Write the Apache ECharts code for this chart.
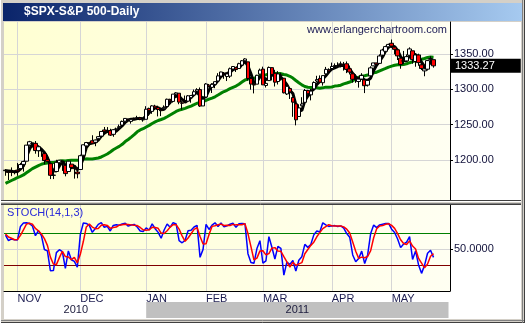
<!DOCTYPE html>
<html><head><meta charset="utf-8">
<script src="https://cdn.jsdelivr.net/npm/echarts@6/dist/echarts.min.js"></script>
<style>html,body{margin:0;padding:0;background:#d4d0c8;overflow:hidden}#c{width:525px;height:323px}</style>
</head><body><div id="c"></div>
<script>
// ---------- DATA ----------
const dates = [
'2010-10-26','2010-10-27','2010-10-28','2010-10-29',
'2010-11-01','2010-11-02','2010-11-03','2010-11-04','2010-11-05','2010-11-08','2010-11-09','2010-11-10','2010-11-11','2010-11-12','2010-11-15','2010-11-16','2010-11-17','2010-11-18','2010-11-19','2010-11-22','2010-11-23','2010-11-24','2010-11-26','2010-11-29','2010-11-30',
'2010-12-01','2010-12-02','2010-12-03','2010-12-06','2010-12-07','2010-12-08','2010-12-09','2010-12-10','2010-12-13','2010-12-14','2010-12-15','2010-12-16','2010-12-17','2010-12-20','2010-12-21','2010-12-22','2010-12-23','2010-12-27','2010-12-28','2010-12-29','2010-12-30','2010-12-31',
'2011-01-03','2011-01-04','2011-01-05','2011-01-06','2011-01-07','2011-01-10','2011-01-11','2011-01-12','2011-01-13','2011-01-14','2011-01-18','2011-01-19','2011-01-20','2011-01-21','2011-01-24','2011-01-25','2011-01-26','2011-01-27','2011-01-28','2011-01-31',
'2011-02-01','2011-02-02','2011-02-03','2011-02-04','2011-02-07','2011-02-08','2011-02-09','2011-02-10','2011-02-11','2011-02-14','2011-02-15','2011-02-16','2011-02-17','2011-02-18','2011-02-22','2011-02-23','2011-02-24','2011-02-25','2011-02-28',
'2011-03-01','2011-03-02','2011-03-03','2011-03-04','2011-03-07','2011-03-08','2011-03-09','2011-03-10','2011-03-11','2011-03-14','2011-03-15','2011-03-16','2011-03-17','2011-03-18','2011-03-21','2011-03-22','2011-03-23','2011-03-24','2011-03-25','2011-03-28','2011-03-29','2011-03-30','2011-03-31',
'2011-04-01','2011-04-04','2011-04-05','2011-04-06','2011-04-07','2011-04-08','2011-04-11','2011-04-12','2011-04-13','2011-04-14','2011-04-15','2011-04-18','2011-04-19','2011-04-20','2011-04-21','2011-04-25','2011-04-26','2011-04-27','2011-04-28','2011-04-29',
'2011-05-02','2011-05-03','2011-05-04','2011-05-05','2011-05-06','2011-05-09','2011-05-10','2011-05-11','2011-05-12','2011-05-13','2011-05-16','2011-05-17','2011-05-18','2011-05-19','2011-05-20'];

const opens = [
1184.88,1183.84,1184.47,1183.87,
1185.71,1187.86,1193.79,1198.34,1221.20,1223.24,1223.59,1213.14,1213.04,1209.07,1200.44,1194.79,1178.33,1183.75,1196.12,1198.07,1192.51,1183.70,1194.16,1189.08,1182.96,
1186.60,1206.81,1219.93,1223.87,1227.25,1225.02,1230.14,1233.85,1242.52,1241.84,1241.58,1236.34,1243.63,1245.76,1249.43,1254.94,1257.53,1254.66,1259.10,1258.78,1259.44,1256.76,
1257.62,1272.95,1268.78,1276.29,1274.41,1270.84,1272.58,1275.65,1285.78,1282.90,1293.22,1294.52,1280.85,1283.63,1283.29,1288.17,1291.97,1297.51,1299.63,1276.50,
1289.14,1305.91,1302.77,1307.01,1311.85,1318.76,1322.48,1318.13,1318.66,1328.73,1330.43,1329.51,1334.37,1340.38,1338.91,1315.44,1307.09,1307.34,1321.61,
1328.64,1305.47,1312.37,1330.73,1322.72,1311.05,1319.92,1315.72,1293.43,1301.19,1288.46,1279.46,1261.61,1276.71,1281.65,1298.29,1292.19,1300.61,1311.80,1315.45,1309.37,1321.89,1327.44,
1329.48,1333.56,1332.03,1335.94,1334.82,1336.16,1329.01,1321.96,1314.03,1311.13,1314.54,1313.35,1305.99,1319.12,1333.23,1337.14,1336.75,1348.43,1353.86,1360.14,
1365.21,1359.76,1355.90,1344.16,1340.24,1340.20,1348.34,1354.51,1339.39,1348.69,1334.77,1326.10,1328.54,1342.40,1342.00];

const highs = [
1187.11,1183.84,1189.53,1185.46,
1195.81,1195.88,1198.30,1221.25,1227.08,1224.57,1226.84,1218.75,1215.45,1210.50,1207.43,1194.79,1183.56,1200.29,1199.97,1198.94,1192.51,1198.62,1194.16,1190.34,1187.40,
1207.61,1221.89,1225.57,1225.80,1235.05,1228.93,1233.68,1240.40,1246.73,1246.59,1244.25,1243.75,1245.81,1250.20,1255.82,1259.39,1258.59,1258.43,1259.90,1262.60,1261.09,1259.34,
1276.17,1274.12,1277.63,1278.17,1276.83,1271.52,1277.25,1286.87,1286.70,1293.24,1296.06,1294.60,1283.35,1291.21,1291.93,1291.26,1299.74,1301.63,1302.67,1287.17,
1308.86,1307.61,1308.60,1311.00,1322.85,1324.87,1324.54,1322.76,1330.79,1332.96,1330.43,1337.61,1341.50,1344.07,1338.91,1317.91,1310.91,1320.61,1329.38,
1332.09,1314.19,1332.28,1331.08,1327.68,1325.74,1323.21,1315.72,1308.35,1301.19,1288.46,1280.91,1278.88,1288.88,1300.58,1299.35,1300.51,1311.34,1319.18,1319.74,1319.45,1331.74,1329.77,
1337.85,1336.74,1338.21,1339.38,1338.80,1339.46,1333.77,1321.96,1321.35,1316.79,1322.88,1313.35,1312.70,1332.66,1337.49,1337.55,1349.55,1357.49,1361.71,1364.56,
1370.58,1360.84,1355.90,1348.00,1354.36,1349.44,1359.44,1354.51,1351.05,1350.47,1343.33,1330.42,1341.82,1346.82,1342.00];

const lows = [
1177.72,1171.70,1177.10,1179.70,
1177.65,1187.86,1183.56,1198.34,1220.29,1217.55,1208.94,1204.33,1204.49,1194.08,1197.15,1173.00,1173.00,1183.75,1189.44,1184.58,1176.91,1183.70,1186.93,1173.64,1174.14,
1186.60,1206.81,1216.82,1220.67,1223.25,1219.50,1228.39,1232.58,1240.34,1238.17,1234.01,1232.85,1239.87,1241.51,1249.43,1254.94,1254.05,1251.48,1256.22,1258.78,1256.32,1254.19,
1257.62,1262.66,1265.36,1270.43,1261.70,1262.18,1269.62,1275.65,1280.47,1281.24,1290.16,1278.92,1271.26,1282.07,1282.47,1281.07,1291.97,1294.42,1275.10,1276.50,
1289.14,1302.62,1294.83,1301.67,1311.85,1316.03,1314.89,1311.74,1316.08,1326.90,1324.61,1329.51,1331.00,1338.12,1312.33,1299.55,1294.26,1307.34,1320.55,
1306.14,1302.58,1312.37,1312.59,1303.99,1306.86,1312.27,1294.21,1291.99,1286.37,1261.12,1249.05,1261.61,1276.18,1281.65,1292.70,1284.38,1297.74,1310.15,1310.19,1305.26,1321.89,1325.03,
1328.89,1329.10,1330.03,1331.09,1326.56,1322.94,1321.06,1309.51,1309.19,1302.42,1313.68,1294.70,1303.97,1319.12,1332.83,1331.47,1336.75,1344.25,1353.60,1358.69,
1358.59,1349.52,1341.50,1329.17,1335.58,1338.64,1348.34,1336.36,1332.03,1333.36,1327.32,1318.51,1326.59,1336.36,1330.67];

const closes = [
1185.64,1182.45,1183.78,1183.26,
1184.38,1193.57,1197.96,1221.06,1225.85,1223.25,1213.40,1218.71,1213.54,1199.21,1197.75,1178.34,1178.59,1196.69,1199.73,1197.84,1180.73,1198.35,1189.40,1187.76,1180.55,
1206.07,1221.53,1224.71,1223.12,1223.75,1228.28,1233.00,1240.40,1240.46,1241.59,1235.23,1242.87,1243.91,1247.08,1254.60,1258.84,1256.77,1257.54,1258.51,1259.78,1257.88,1257.64,
1271.87,1270.20,1276.56,1273.85,1271.50,1269.75,1274.48,1285.96,1283.76,1293.24,1295.02,1281.92,1280.26,1283.35,1290.84,1291.18,1296.63,1299.54,1276.34,1286.12,
1307.59,1304.03,1307.10,1310.87,1319.05,1324.57,1320.88,1321.87,1329.15,1332.32,1328.01,1336.32,1340.43,1343.01,1315.44,1307.40,1306.10,1319.88,1327.22,
1306.33,1308.44,1330.97,1321.15,1310.13,1321.82,1320.02,1295.11,1304.28,1296.39,1281.87,1256.88,1273.72,1279.21,1298.38,1293.77,1297.54,1309.66,1313.80,1310.19,1319.44,1328.26,1325.83,
1332.41,1332.87,1332.63,1335.54,1333.51,1328.17,1324.46,1314.16,1314.41,1314.52,1319.68,1305.14,1312.62,1330.36,1337.38,1335.25,1347.24,1355.66,1360.48,1363.61,
1361.22,1356.62,1347.32,1335.10,1340.20,1346.29,1357.16,1342.08,1348.65,1337.77,1329.47,1328.98,1340.68,1343.60,1333.27];

// short moving average (black)
const maShort = [
1184.8,1184.6,1184.0,1183.2,
1183.8,1187.1,1192.0,1204.2,1215.0,1223.4,1220.8,1218.5,1215.2,1210.5,1203.5,1191.8,1184.9,1184.5,1191.7,1198.1,1192.8,1192.3,1189.5,1191.8,1185.9,
1191.5,1202.7,1217.4,1223.1,1223.9,1225.1,1228.3,1233.9,1238.0,1240.8,1239.1,1239.9,1240.7,1244.6,1248.5,1253.5,1256.7,1257.7,1257.6,1258.6,1258.7,1258.4,
1262.5,1266.6,1272.9,1273.5,1274.0,1271.7,1271.9,1276.7,1281.4,1287.7,1290.7,1290.1,1285.7,1281.8,1284.8,1288.5,1292.9,1295.8,1290.8,1287.3,
1290.0,1299.2,1306.2,1307.3,1312.3,1318.2,1321.5,1322.4,1324.0,1327.8,1329.8,1332.2,1334.9,1339.9,1333.0,1322.0,1309.6,1311.1,1317.7,
1317.8,1314.0,1315.2,1320.2,1320.8,1317.7,1317.3,1312.3,1306.5,1298.6,1294.2,1278.4,1270.8,1269.9,1283.8,1290.5,1296.6,1300.3,1307.0,1311.2,1314.5,1319.3,1324.5,
1328.8,1330.4,1332.6,1333.7,1333.9,1332.4,1328.7,1322.3,1317.7,1314.4,1316.2,1313.1,1312.5,1316.0,1326.8,1334.3,1340.0,1346.1,1354.5,1359.9,
1361.8,1360.5,1355.1,1346.3,1340.9,1340.5,1347.9,1348.5,1349.3,1342.8,1338.6,1332.1,1333.0,1337.8,1339.2];

// longer moving average (green)
const maLong = [
1167.0,1168.9,1171.0,1172.9,
1175.2,1176.9,1178.8,1181.9,1184.9,1187.8,1190.0,1192.1,1194.0,1195.2,1195.8,1196.5,1196.5,1197.3,1198.1,1198.8,1198.5,1199.3,1199.6,1199.8,1199.6,
1200.2,1201.4,1201.6,1201.5,1201.5,1202.2,1202.9,1204.3,1206.4,1208.5,1211.4,1214.6,1217.0,1219.3,1222.2,1226.1,1229.0,1232.4,1235.9,1239.9,1242.5,1244.3,
1246.7,1249.0,1251.7,1253.9,1255.9,1257.3,1259.0,1261.2,1263.7,1266.2,1268.7,1270.5,1271.8,1273.0,1274.7,1276.4,1278.3,1280.3,1281.2,1282.6,
1284.4,1286.1,1287.6,1289.5,1291.9,1294.6,1296.9,1298.7,1301.0,1302.9,1304.6,1307.3,1310.3,1313.3,1314.5,1315.3,1315.8,1316.8,1319.4,
1320.4,1320.4,1321.8,1322.5,1322.4,1322.6,1322.3,1321.1,1320.2,1318.5,1316.0,1312.5,1309.3,1306.3,1304.0,1303.0,1302.5,1302.6,1302.3,1301.5,1302.1,1303.1,1302.9,
1303.4,1304.6,1305.1,1305.9,1307.8,1309.0,1310.4,1312.0,1314.9,1316.9,1319.0,1319.3,1320.2,1321.9,1323.3,1324.3,1326.2,1328.0,1329.6,1331.5,
1332.9,1334.1,1334.9,1334.8,1335.2,1336.1,1337.7,1339.1,1340.8,1342.0,1342.5,1343.7,1345.1,1345.7,1345.5];

// stochastic %K (blue) and %D (red)
const stochK = [
76.5,66.2,69.4,68.1,
67.7,92.9,99.1,99.7,98.2,93.7,75.5,84.9,75.6,49.7,47.0,9.9,10.3,43.8,49.4,45.9,14.3,46.9,30.5,27.4,16.5,
77.9,99.3,98.4,94.9,81.8,89.0,96.7,100,91.4,93.0,84.3,94.7,96.1,95.1,97.5,98.7,93.4,95.4,96.6,91.8,84.3,83.3,
90.1,86.2,97.6,88.7,81.8,70.7,86.2,97.4,91.2,100,97.5,66.2,62.3,66.9,84.8,85.8,91.8,94.8,35.0,49.9,
96.6,87.2,95.3,99.7,92.6,99.4,92.0,94.0,97.1,98.9,91.4,97.9,98.4,98.1,41.9,25.5,23.8,51.4,66.2,
24.2,28.5,73.7,54.0,31.9,55.3,51.7,1.8,26.2,21.8,29.2,9.4,29.6,36.2,59.3,53.7,59.1,77.1,84.4,82.4,99.6,95.8,92.9,
93.9,94.4,92.7,93.9,89.8,79.5,72.8,39.4,26.8,32.7,46.6,23.3,40.0,79.7,95.4,90.6,95.8,97.1,98.2,98.6,
87.7,81.6,69.3,53.2,60.0,63.5,73.9,31.2,47.0,20.8,5.0,20.1,42.6,48.2,34.9];

const stochD = [
78.8,73.1,70.7,67.9,
68.4,76.2,86.6,97.2,99.0,97.2,89.1,84.7,78.7,70.1,57.4,35.5,22.4,21.3,34.5,46.4,36.5,35.7,30.6,34.9,24.8,
40.6,64.6,91.9,97.5,91.7,88.6,89.2,95.2,96.0,94.8,89.6,90.7,91.7,95.3,96.2,97.1,96.5,95.8,95.1,94.6,90.9,86.5,
85.9,86.5,91.3,90.8,89.4,80.4,79.6,84.8,91.6,96.2,96.2,87.9,75.3,65.1,71.3,79.2,87.5,90.8,73.9,59.9,
60.5,77.9,93.0,94.1,95.9,97.2,94.7,95.1,94.4,96.7,95.8,96.1,95.9,98.1,79.5,55.2,30.4,33.6,47.1,
47.3,39.6,42.1,52.1,53.2,47.1,46.3,36.3,26.6,16.6,25.7,20.1,22.7,25.1,41.7,49.7,57.4,63.3,73.5,81.3,88.8,92.6,96.1,
94.2,93.7,93.7,93.7,92.1,87.7,80.7,63.9,46.3,33.0,35.4,34.2,36.6,47.7,71.7,88.6,93.9,94.5,97.0,98.0,
94.8,89.3,79.5,68.0,60.8,58.9,65.8,56.2,50.7,33.0,24.3,15.3,22.6,37.0,41.9];

const monthStarts = ['2010-11-01','2010-12-01','2011-01-03','2011-02-01','2011-03-01','2011-04-01','2011-05-02'];
const monthLabels = ['NOV','DEC','JAN','FEB','MAR','APR','MAY'];
const priceTicks = [1200, 1250, 1300, 1350];
const stochTicks = [50];
const stochUpper = [80];
const stochLower = [20];
const yearLabels = ['2010', '2011'];
const yearStart = '2011-01-03';

// ---------- CHART ----------
const FONT = '"Liberation Sans", Arial, sans-serif';
const LASTSLOT = dates.length + 4;
const plotBg = {type:'linear', x:0, y:0, x2:1, y2:0,
  colorStops:[{offset:0, color:'#ffffd2'}, {offset:1, color:'#fffff2'}]};
const candleData = dates.map((d, i) => [opens[i], closes[i], lows[i], highs[i]]);
const vLines = monthStarts.map(d => ({xAxis: d}));
const gridMark = {silent:true, symbol:'none', z:1, animation:false, label:{show:false},
  lineStyle:{color:'#d6d6d6', width:1, type:'solid'}, data: vLines};

function xAx(gi, extra) {
  return Object.assign({type:'category', gridIndex:gi, data:dates, boundaryGap:true, max:LASTSLOT,
    axisTick:{show:false}, splitLine:{show:false}, axisLine:{show:false, onZero:false}, axisLabel:{show:false}}, extra || {});
}

const chart = echarts.init(document.getElementById('c'), null, {renderer:'canvas'});
const btn = (x, glyph) => ({type:'group', x:x, y:6, z:120, children:[
  {type:'rect', shape:{x:0, y:0, width:16, height:14}, style:{fill:'#d4d0c8', stroke:'#404040', lineWidth:1}},
  {type:'polyline', shape:{points:[[0.5,13],[0.5,0.5],[15,0.5]]}, style:{stroke:'#ffffff', lineWidth:1, fill:null}},
  {type:'polyline', shape:{points:[[1.5,12.5],[14.5,12.5],[14.5,1.5]]}, style:{stroke:'#808080', lineWidth:1, fill:null}}
].concat(glyph)});

chart.setOption({
  animation:false,
  backgroundColor:'#d4d0c8',
  grid:[
    {left:4, right:75, top:22, height:178, show:true, backgroundColor:plotBg, borderWidth:0},
    {left:4, right:75, top:205, height:86, show:true, backgroundColor:plotBg, borderWidth:0},
    {left:4, right:75, top:302, height:16, show:false}
  ],
  xAxis:[
    xAx(0),
    xAx(1, {axisLine:{show:true, onZero:false, lineStyle:{color:'#000', width:1}},
      axisLabel:{show:true, interval:(i, v) => monthStarts.indexOf(v) >= 0,
        formatter:v => monthLabels[monthStarts.indexOf(v)] || '', align:'left', margin:2,
        color:'#1c1c50', fontFamily:FONT, fontSize:11}}),
    xAx(2)
  ],
  yAxis:[
    {gridIndex:0, type:'value', position:'right', min:1143.4, max:1395.3,
      axisLine:{show:true, lineStyle:{color:'#000', width:1}},
      axisTick:{show:true, length:3, customValues:priceTicks, lineStyle:{color:'#000'}},
      axisLabel:{customValues:priceTicks, formatter:v => v.toFixed(2), margin:4, color:'#10103a', fontFamily:FONT, fontSize:11},
      splitLine:{show:true, lineStyle:{color:'#d6d6d6', width:1}}},
    {gridIndex:1, type:'value', position:'right', min:-28, max:133,
      axisLine:{show:true, lineStyle:{color:'#000', width:1}},
      axisTick:{show:true, length:3, customValues:stochTicks, lineStyle:{color:'#000'}},
      axisLabel:{customValues:stochTicks, formatter:v => v.toFixed(4), margin:4, color:'#10103a', fontFamily:FONT, fontSize:11},
      splitLine:{show:true, lineStyle:{color:'#d6d6d6', width:1}}},
    {gridIndex:2, type:'value', show:false, min:0, max:1}
  ],
  series:[
    {type:'line', name:'grid0', xAxisIndex:0, yAxisIndex:0, data:[], silent:true, z:1, markLine:gridMark},
    {type:'line', name:'MA long', xAxisIndex:0, yAxisIndex:0, data:maLong, showSymbol:false, silent:true, z:3,
      lineStyle:{color:'#008000', width:3}},
    {type:'line', name:'MA short', xAxisIndex:0, yAxisIndex:0, data:maShort, showSymbol:false, silent:true, z:4,
      lineStyle:{color:'#000000', width:3}},
    {type:'candlestick', name:'$SPX', xAxisIndex:0, yAxisIndex:0, data:candleData, barWidth:4, z:5, silent:true,
      itemStyle:{color:'#ffffff', color0:'#ff0000', borderColor:'#000000', borderColor0:'#000000', borderWidth:1},
      markLine:{silent:true, symbol:'none', animation:false, z:10,
        lineStyle:{color:'rgba(0,0,0,0)', width:0},
        data:[{yAxis: closes[closes.length - 1]}],
        label:{show:true, position:'end', distance:1, formatter:p => Number(p.value).toFixed(2),
          color:'#ffffff', backgroundColor:'#000000', padding:[2, 26, 1, 4], fontFamily:FONT, fontSize:11}}},
    {type:'line', name:'grid1', xAxisIndex:1, yAxisIndex:1, data:[], silent:true, z:1, markLine:gridMark},
    {type:'line', name:'%K', xAxisIndex:1, yAxisIndex:1, data:stochK, showSymbol:false, silent:true, z:4,
      lineStyle:{color:'#0000ff', width:1.5},
      markLine:{silent:true, symbol:'none', z:2, animation:false, label:{show:false},
        data:[{yAxis:stochUpper[0], lineStyle:{color:'#008000', width:1, type:'solid'}},
              {yAxis:stochLower[0], lineStyle:{color:'#800000', width:1, type:'solid'}}]}},
    {type:'line', name:'%D', xAxisIndex:1, yAxisIndex:1, data:stochD, showSymbol:false, silent:true, z:5,
      lineStyle:{color:'#ff0000', width:1.5}},
    {type:'line', name:'years', xAxisIndex:2, yAxisIndex:2, data:[], silent:true, z:2,
      markArea:{silent:true, animation:false,
        label:{show:true, position:'inside', color:'#202040', fontFamily:FONT, fontSize:11},
        data:[
          [{name:yearLabels[0], xAxis:dates[0], itemStyle:{color:'#ffffff'}}, {xAxis:yearStart}],
          [{name:yearLabels[1], xAxis:yearStart, itemStyle:{color:'#c0c0c0'}}, {xAxis:LASTSLOT}]
        ]}}
  ],
  graphic:[
    {type:'rect', z:-10, silent:true, shape:{x:4, y:22, width:517, height:297}, style:{fill:'#ffffff'}},
    // panel separator
    {type:'rect', z:60, silent:true, shape:{x:0, y:200, width:521, height:5}, style:{fill:'#d4d0c8'}},
    {type:'line', z:61, silent:true, shape:{x1:0, y1:200.5, x2:521, y2:200.5}, style:{stroke:'#404040', lineWidth:1}},
    {type:'line', z:61, silent:true, shape:{x1:0, y1:201.5, x2:521, y2:201.5}, style:{stroke:'#ffffff', lineWidth:1}},
    {type:'line', z:61, silent:true, shape:{x1:0, y1:203.5, x2:521, y2:203.5}, style:{stroke:'#808080', lineWidth:1}},
    {type:'line', z:61, silent:true, shape:{x1:0, y1:204.5, x2:521, y2:204.5}, style:{stroke:'#404040', lineWidth:1}},
    // window frame lines
    {type:'line', z:61, silent:true, shape:{x1:0, y1:320.5, x2:525, y2:320.5}, style:{stroke:'#808080', lineWidth:1}},
    {type:'line', z:61, silent:true, shape:{x1:0, y1:322.5, x2:525, y2:322.5}, style:{stroke:'#404040', lineWidth:1}},
    {type:'line', z:61, silent:true, shape:{x1:522.5, y1:0, x2:522.5, y2:323}, style:{stroke:'#808080', lineWidth:1}},
    {type:'line', z:61, silent:true, shape:{x1:524.5, y1:0, x2:524.5, y2:323}, style:{stroke:'#404040', lineWidth:1}},
    {type:'line', z:61, silent:true, shape:{x1:0.5, y1:0, x2:0.5, y2:323}, style:{stroke:'#ffffff', lineWidth:1}},
    // title bar
    {type:'rect', z:100, silent:true, shape:{x:3, y:3, width:519, height:18},
      style:{fill:{type:'linear', x:0, y:0, x2:1, y2:0, colorStops:[{offset:0, color:'#0a246a'}, {offset:1, color:'#a6caf0'}]}}},
    {type:'group', x:5, y:4, z:110, children:[
      {type:'rect', shape:{x:0.5, y:0.5, width:15, height:15}, style:{fill:'#ffffff', stroke:'#000000', lineWidth:1}},
      {type:'polyline', shape:{points:[[3,12],[6,9],[9,10],[13,4]]}, style:{stroke:'#000000', lineWidth:1.5, fill:null}},
      {type:'rect', shape:{x:4, y:5, width:2, height:3}, style:{fill:'#ff0000'}},
      {type:'rect', shape:{x:10, y:7, width:2, height:4}, style:{fill:'#ff0000'}}
    ]},
    {type:'text', z:110, silent:true, x:24, y:12,
      style:{text:'$SPX-S&P 500-Daily', fill:'#ffffff', fontFamily:FONT, fontSize:12, fontWeight:'bold', align:'left', verticalAlign:'middle'}},
    btn(468, [{type:'rect', shape:{x:4, y:9, width:6, height:2}, style:{fill:'#000'}}]),
    btn(485, [{type:'rect', shape:{x:3.5, y:2.5, width:8, height:7}, style:{fill:null, stroke:'#000', lineWidth:1}},
              {type:'rect', shape:{x:3, y:2, width:9, height:2}, style:{fill:'#000'}}]),
    btn(502, [{type:'line', shape:{x1:4, y1:3, x2:11, y2:10}, style:{stroke:'#000', lineWidth:1.6}},
              {type:'line', shape:{x1:11, y1:3, x2:4, y2:10}, style:{stroke:'#000', lineWidth:1.6}}]),
    // texts
    {type:'text', z:50, silent:true, x:447, y:30,
      style:{text:'www.erlangerchartroom.com', fill:'#1a1a55', fontFamily:FONT, fontSize:11, align:'right', verticalAlign:'middle'}},
    {type:'text', z:50, silent:true, x:7, y:213,
      style:{text:'STOCH(14,1,3)', fill:'#2a2ad8', fontFamily:FONT, fontSize:11, align:'left', verticalAlign:'middle'}}
  ]
});
</script>
</body></html>
